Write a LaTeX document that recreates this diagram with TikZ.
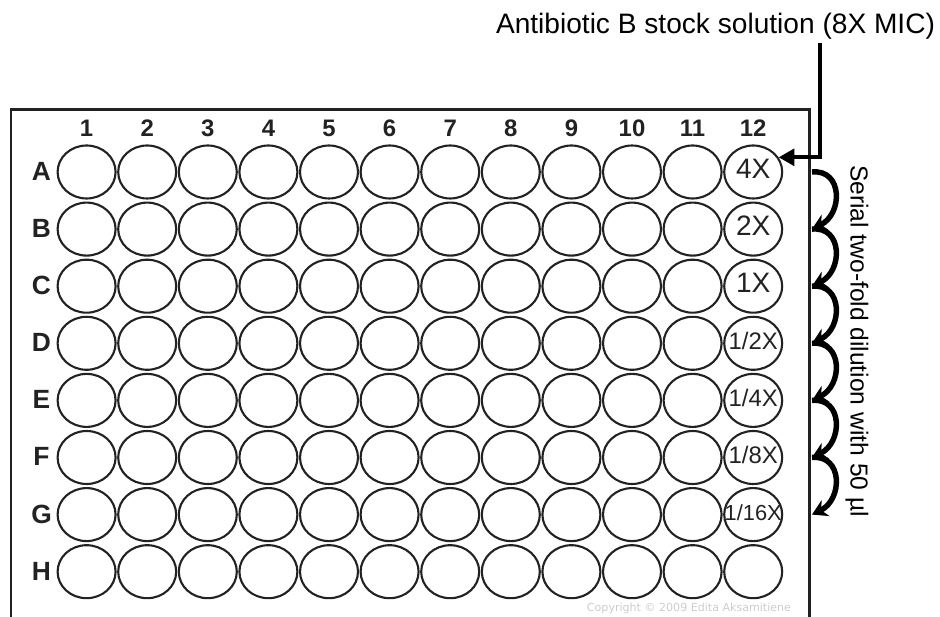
\documentclass[tikz,border=0pt]{standalone}
\usepackage{fontspec}
\setmainfont{Liberation Sans}
\newfontfamily\copyfont{DejaVu Sans}
\usepackage{xcolor}
\usepackage{tikz}
\usetikzlibrary{calc,arrows.meta,positioning}
\usetikzlibrary{shapes.geometric}

\definecolor{ink}{HTML}{222222}

\begin{document}
\begin{tikzpicture}[
    x=0.02cm,
    y=-0.02cm,
    >=Latex,
    well/.style={ellipse,draw=ink,line width=1.2pt,
        minimum width=1.16cm,minimum height=1.06cm,inner sep=0pt},
    collab/.style={font=\fontsize{13.6}{15}\selectfont\bfseries,
        text=ink,anchor=base,inner sep=0pt},
    rowlab/.style={font=\fontsize{15}{17}\selectfont\bfseries,
        text=ink,anchor=base,inner sep=0pt},
    dose/.style={font=\fontsize{16}{18}\selectfont,text=ink,
        inner sep=0pt,text height=0.72em,text depth=0pt},
    smalldose/.style={dose,font=\fontsize{13.6}{15}\selectfont},
    plate/.style={line width=1.4pt,draw=ink},
    feedline/.style={line width=2.3pt,-{Triangle[length=9pt,width=9.5pt]}},
    dilute/.style={line width=3.1pt,-{Stealth[length=8.5pt,width=10pt]}}
]

\useasboundingbox (0,0) rectangle (940,617);

% Plate outline (open at the bottom)
\draw[plate] (11,617) -- (11,109.5) -- (809.5,109.5) -- (809.5,617);

% Column numbers
\foreach \j in {1,...,12}{
    \pgfmathsetmacro\xx{86.6+60.6*(\j-1)}
    \node[collab] (col\j) at (\xx,137) {\j};
}

% Rows of wells
\foreach \r [count=\i] in {A,B,C,D,E,F,G,H}{
    \pgfmathsetmacro\yy{172+57.1*(\i-1)}
    \node[rowlab] (row\r) at (41.5,\yy+8.5) {\r};
    \foreach \j in {1,...,12}{
        \pgfmathsetmacro\xx{86.6+60.6*(\j-1)}
        \node[well] (\r\j) at (\xx,\yy) {};
    }
}

% Concentrations in column 12
\node[dose] (dA) at (A12) {4X};
\node[dose] (dB) at (B12) {2X};
\node[dose] (dC) at (C12) {1X};
\node[smalldose] (dD) at (D12) {1/2X};
\node[smalldose] (dE) at (E12) {1/4X};
\node[smalldose] (dF) at (F12) {1/8X};
\node[dose,font=\fontsize{12.4}{14}\selectfont] (dG) at (G12) {1/16X};

% Stock solution
\node[font=\fontsize{16}{18}\selectfont,anchor=base,inner sep=0pt]
    (stock) at (715.5,34) {Antibiotic B stock solution (8X MIC)};
\coordinate (feed) at (820,43);
\draw[feedline] (feed) |- (A12.30);

% Serial dilution
\coordinate (rim) at (812,0);
\foreach \a/\b in {A/B,B/C,C/D,D/E,E/F,F/G}
    \draw[dilute] (\a12 -| rim)
        .. controls +(31,-3) and +(31,-15) ..
        (\b12 -| rim);

\node[rotate=-90,font=\fontsize{14}{16}\selectfont,inner sep=0pt]
    (serial) at (857,341) {Serial two-fold dilution with 50 µl};

\node[font=\copyfont\fontsize{6.3}{7}\selectfont,text=gray!40,inner sep=0pt]
    (copy) at (689,608) {Copyright \textcopyright{} 2009 Edita Aksamitiene};

\end{tikzpicture}
\end{document}
